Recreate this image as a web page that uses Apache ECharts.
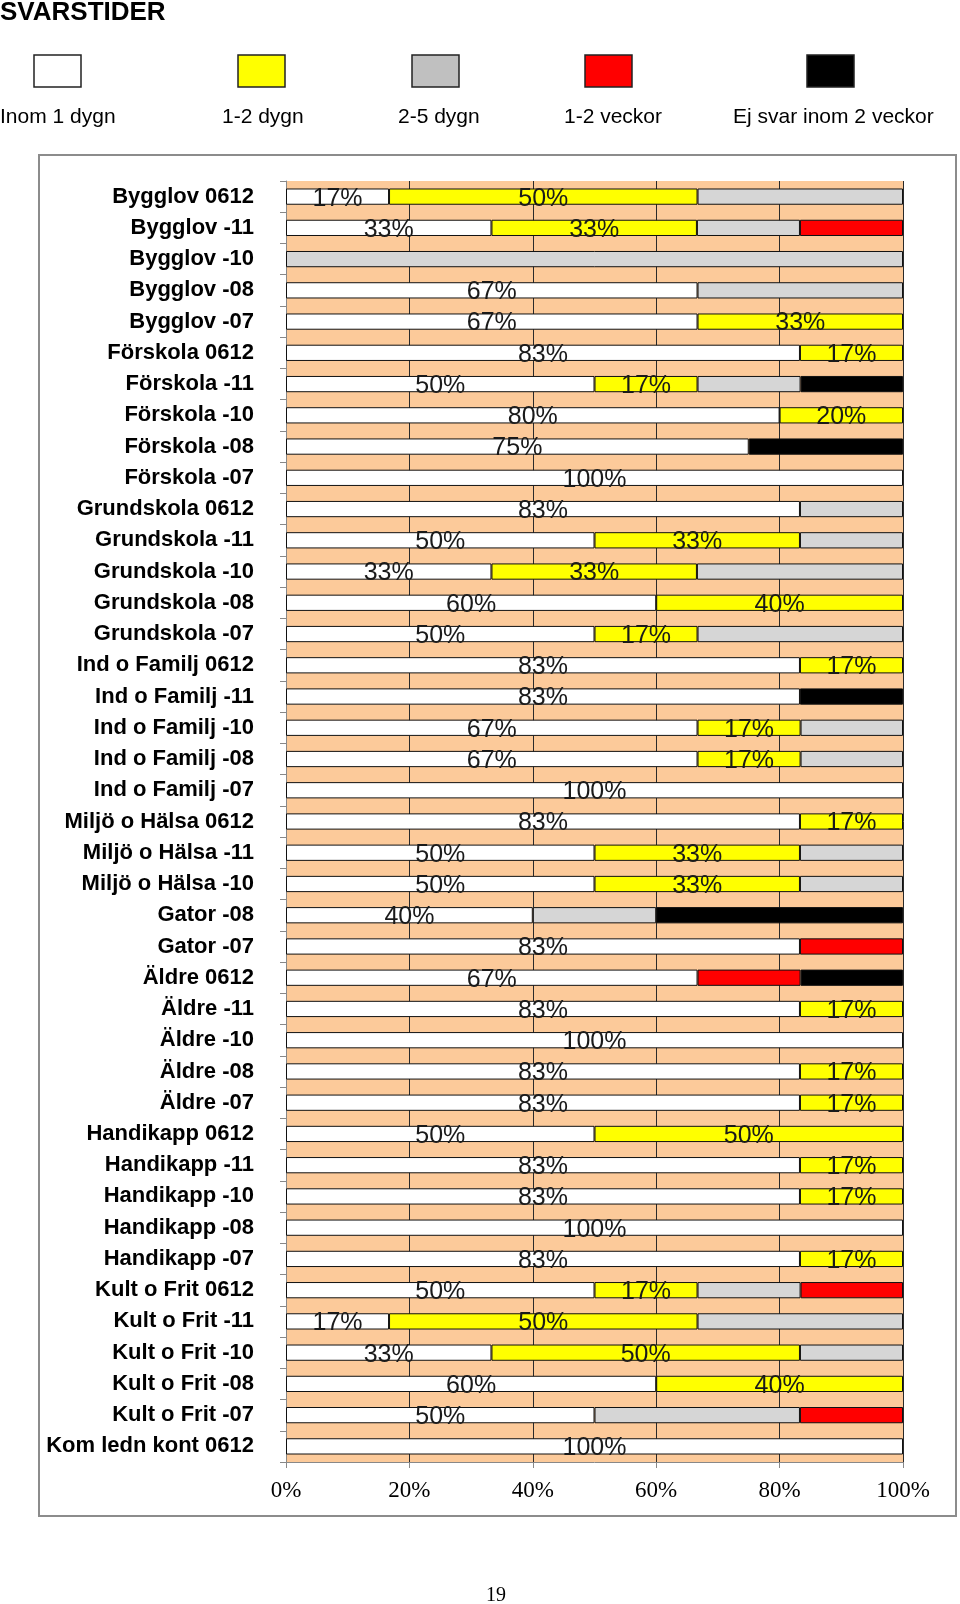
<!DOCTYPE html>
<html><head><meta charset="utf-8">
<script src="https://cdn.jsdelivr.net/npm/echarts@6/dist/echarts.min.js"></script>
<style>html,body{margin:0;padding:0;background:#fff}#c{width:960px;height:1604px}</style>
</head><body><div id="c"></div>
<script>
var categories = ["Bygglov 0612","Bygglov -11","Bygglov -10","Bygglov -08","Bygglov -07","Förskola 0612","Förskola -11","Förskola -10","Förskola -08","Förskola -07","Grundskola 0612","Grundskola -11","Grundskola -10","Grundskola -08","Grundskola -07","Ind o Familj 0612","Ind o Familj -11","Ind o Familj -10","Ind o Familj -08","Ind o Familj -07","Miljö o Hälsa 0612","Miljö o Hälsa -11","Miljö o Hälsa -10","Gator -08","Gator -07","Äldre 0612","Äldre -11","Äldre -10","Äldre -08","Äldre -07","Handikapp 0612","Handikapp -11","Handikapp -10","Handikapp -08","Handikapp -07","Kult o Frit 0612","Kult o Frit -11","Kult o Frit -10","Kult o Frit -08","Kult o Frit -07","Kom ledn kont 0612"];
var seriesNames = ["Inom 1 dygn","1-2 dygn","2-5 dygn","1-2 veckor","Ej svar inom 2 veckor"];
var inom1dygn = [16.7,33.3,0,66.7,66.7,83.3,50,80,75,100,83.3,50,33.3,60,50,83.3,83.3,66.7,66.7,100,83.3,50,50,40,83.3,66.7,83.3,100,83.3,83.3,50,83.3,83.3,100,83.3,50,16.7,33.3,60,50,100];
var dygn12 = [50,33.3,0,0,33.3,16.7,16.7,20,0,0,0,33.3,33.3,40,16.7,16.7,0,16.7,16.7,0,16.7,33.3,33.3,0,0,0,16.7,0,16.7,16.7,50,16.7,16.7,0,16.7,16.7,50,50,40,0,0];
var dygn25 = [33.3,16.7,100,33.3,0,0,16.7,0,0,0,16.7,16.7,33.4,0,33.3,0,0,16.6,16.6,0,0,16.7,16.7,20,0,0,0,0,0,0,0,0,0,0,0,16.7,33.3,16.7,0,33.3,0];
var veckor12 = [0,16.7,0,0,0,0,0,0,0,0,0,0,0,0,0,0,0,0,0,0,0,0,0,0,16.7,16.7,0,0,0,0,0,0,0,0,0,16.6,0,0,0,16.7,0];
var ejSvar = [0,0,0,0,0,0,16.6,0,25,0,0,0,0,0,0,0,16.7,0,0,0,0,0,0,40,0,16.6,0,0,0,0,0,0,0,0,0,0,0,0,0,0,0];
var xTicks = [0,20,40,60,80,100];

var barColors = ["#FFFFFF","#FFFF00","#D6D6D6","#FF0000","#000000"];
var legendColors = ["#FFFFFF","#FFFF00","#C0C0C0","#FF0000","#000000"];
var allData = [inom1dygn, dygn12, dygn25, veckor12, ejSvar];

var chart = echarts.init(document.getElementById('c'));
var series = allData.map(function(arr, i){
  return {
    name: seriesNames[i], type: 'bar', stack: 'all', barWidth: '52%',
    data: arr.map(function(v){ return v > 0 ? v : '-'; }),
    itemStyle: { color: barColors[i], borderColor: '#111', borderWidth: 1 },
    label: {
      show: i < 2, position: 'inside', color: '#1a1a1a', fontFamily: 'Liberation Sans',
      fontSize: 25, offset: [0, 2],
      formatter: function(p){ return Math.round(p.value) + '%'; }
    },
    emphasis: { disabled: true }, animation: false
  };
});

var legX = [34, 238, 412, 585, 807];
var legTextX = [0, 222, 398, 564, 733];
var graphics = [
  { type: 'text', left: 0, top: 0, style: { text: 'SVARSTIDER', font: 'bold 26px "Liberation Sans"', fill: '#000' } },
  { type: 'rect', shape: { x: 39, y: 155, width: 917, height: 1361 }, style: { fill: 'none', stroke: '#8c8c8c', lineWidth: 2 }, z: -1 },
  { type: 'text', left: 486, top: 1586, style: { text: '19', font: '20px "Liberation Serif"', fill: '#000' } }
];
for (var i = 0; i < 5; i++) {
  graphics.push({ type: 'rect', shape: { x: legX[i], y: 55, width: 47, height: 32 },
    style: { fill: legendColors[i], stroke: '#222', lineWidth: 1.5 } });
  graphics.push({ type: 'text', x: legTextX[i], y: 107, style: { text: seriesNames[i], font: '21px "Liberation Sans"', fill: '#000' } });
}

chart.setOption({
  animation: false,
  backgroundColor: '#fff',
  graphic: graphics,
  grid: { left: 286, right: 57, top: 181, bottom: 142, show: true, backgroundColor: '#FCCA9A', borderWidth: 0, containLabel: false },
  xAxis: {
    type: 'value', min: xTicks[0], max: xTicks[xTicks.length-1], interval: 20,
    axisLabel: { formatter: '{value}%', fontFamily: 'Liberation Serif', fontSize: 23, color: '#000', margin: 17 },
    axisLine: { show: true, lineStyle: { color: '#888' } },
    axisTick: { show: true, length: 6, lineStyle: { color: '#888' } },
    splitLine: { show: true, lineStyle: { color: '#2a2a2a', width: 1 } }
  },
  yAxis: {
    type: 'category', data: categories, inverse: true,
    axisLabel: { fontFamily: 'Liberation Sans', fontWeight: 'bold', fontSize: 22, color: '#000', margin: 32 },
    axisLine: { show: true, lineStyle: { color: '#888' } },
    axisTick: { show: true, length: 6, lineStyle: { color: '#888' } }
  },
  series: series
});
</script></body></html>
